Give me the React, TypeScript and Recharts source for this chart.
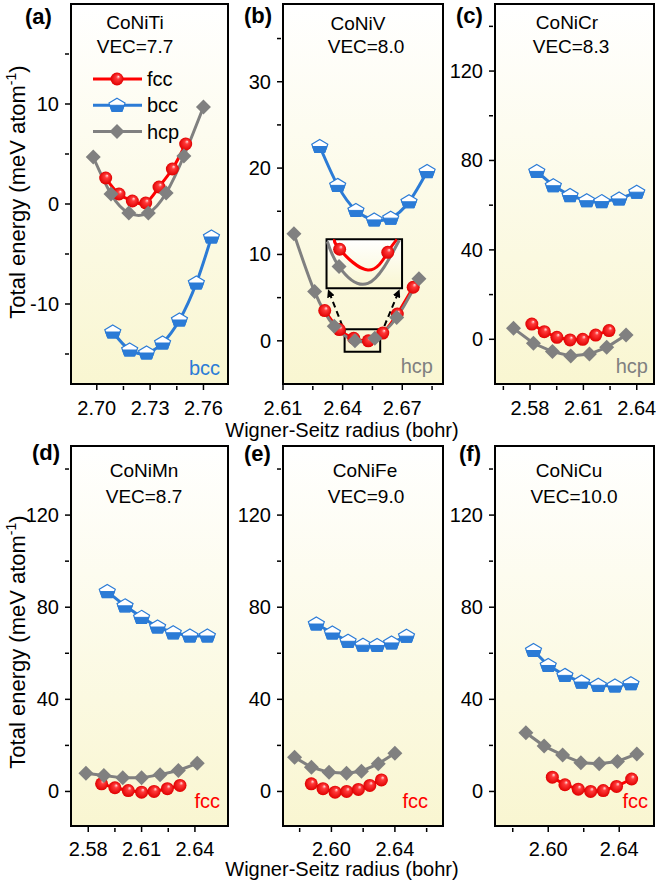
import React from "react";
import {
  LineChart,
  Line,
  XAxis,
  YAxis,
  CartesianGrid,
  ReferenceArea,
  ReferenceLine,
  Legend,
} from "recharts";

// ── Data (Wigner-Seitz radius in bohr, total energy in meV/atom) ─────────────
// (a) CoNiTi
const TI_FCC_R = [2.705, 2.7125, 2.72, 2.7275, 2.735, 2.7425, 2.75];
const TI_FCC_E = [2.6, 1.0, 0.3, 0.1, 1.7, 3.5, 6.0];
const TI_BCC_R = [2.709, 2.7185, 2.728, 2.737, 2.7465, 2.756, 2.7645];
const TI_BCC_E = [-12.8, -14.6, -14.9, -13.9, -11.6, -7.9, -3.3];
const TI_HCP_R = [2.698, 2.708, 2.718, 2.729, 2.739, 2.749, 2.76];
const TI_HCP_E = [4.7, 1.0, -0.9, -0.9, 1.1, 4.8, 9.7];

// (b) CoNiV
const V_FCC_R = [2.631, 2.6383, 2.6456, 2.6529, 2.6602, 2.6675, 2.6755];
const V_FCC_E = [3.5, 1.3, 0.3, 0.0, 0.9, 3.1, 6.2];
const V_BCC_R = [2.6285, 2.6375, 2.6467, 2.6559, 2.6642, 2.6734, 2.6825];
const V_BCC_E = [22.5, 18.0, 15.1, 14.0, 14.2, 16.1, 19.6];
const V_HCP_R = [2.6155, 2.6259, 2.6358, 2.6462, 2.6562, 2.6672, 2.6784];
const V_HCP_E = [12.4, 5.7, 1.7, 0.0, 0.3, 2.7, 7.2];

// (b) inset: magnified view of the fcc / hcp minima
const INSET_FCC_R = [2.636, 2.6385, 2.6527, 2.6627, 2.6673];
const INSET_FCC_E = [11.75, 10.6, 8.2, 10.25, 11.75];
const INSET_FCC_MARKED = [1, 3];
const INSET_HCP_R = [2.6323, 2.6382, 2.6527, 2.6685];
const INSET_HCP_E = [11.5, 8.6, 6.65, 11.65];
const INSET_HCP_MARKED = [1];

// (c) CoNiCr
const CR_FCC_R = [2.581, 2.588, 2.5951, 2.6025, 2.6096, 2.6169, 2.6244];
const CR_FCC_E = [6.8, 3.4, 0.9, -0.3, 0.0, 1.9, 3.9];
const CR_BCC_R = [2.5838, 2.5931, 2.6025, 2.6119, 2.6203, 2.6301, 2.64];
const CR_BCC_E = [75.1, 68.7, 64.3, 62.0, 61.6, 62.8, 65.8];
const CR_HCP_R = [2.5707, 2.5819, 2.5926, 2.6029, 2.6134, 2.6231, 2.634];
const CR_HCP_E = [4.9, -1.8, -5.5, -7.5, -6.6, -3.6, 1.9];

// (d) CoNiMn
const MN_FCC_R = [2.5875, 2.595, 2.6025, 2.61, 2.617, 2.6245, 2.6316];
const MN_FCC_E = [3.3, 1.6, 0.4, -0.3, 0.0, 1.2, 2.6];
const MN_BCC_R = [2.5907, 2.6007, 2.61, 2.619, 2.6278, 2.6372, 2.647];
const MN_BCC_E = [86.8, 80.6, 75.6, 71.4, 68.9, 67.5, 67.5];
const MN_HCP_R = [2.5787, 2.5888, 2.5994, 2.61, 2.6204, 2.6307, 2.6413];
const MN_HCP_E = [7.9, 6.9, 5.9, 5.9, 7.3, 9.1, 12.2];

// (e) CoNiFe
const FE_FCC_R = [2.5873, 2.5947, 2.6023, 2.6096, 2.617, 2.6242, 2.6315];
const FE_FCC_E = [3.3, 1.2, -0.3, 0.0, 0.9, 2.6, 5.0];
const FE_BCC_R = [2.5905, 2.6006, 2.6105, 2.6199, 2.6288, 2.6379, 2.6473];
const FE_BCC_E = [72.7, 68.8, 65.2, 63.5, 63.4, 64.5, 67.4];
const FE_HCP_R = [2.5768, 2.5874, 2.5985, 2.6095, 2.6189, 2.6295, 2.64];
const FE_HCP_E = [14.8, 10.5, 8.3, 7.9, 8.8, 12.0, 16.6];

// (f) CoNiCu
const CU_FCC_R = [2.6023, 2.6094, 2.6169, 2.6239, 2.631, 2.6385, 2.647];
const CU_FCC_E = [6.2, 2.9, 1.0, 0.0, 0.4, 2.2, 5.4];
const CU_BCC_R = [2.5917, 2.6, 2.6094, 2.6188, 2.6282, 2.6376, 2.6466];
const CU_BCC_E = [61.2, 54.7, 50.4, 47.5, 46.1, 45.8, 46.8];
const CU_HCP_R = [2.5874, 2.5977, 2.6081, 2.6184, 2.6287, 2.639, 2.6499];
const CU_HCP_E = [25.5, 19.7, 15.8, 12.5, 12.0, 13.0, 16.3];

// tick values
const TI_X_MAJOR = [2.7, 2.73, 2.76];
const TI_X_MINOR = [2.715, 2.745];
const V_X_MAJOR = [2.61, 2.64, 2.67];
const V_X_MINOR = [2.625, 2.655, 2.685];
const CR_X_MAJOR = [2.58, 2.61, 2.64];
const CR_X_MINOR = [2.565, 2.595, 2.625];
const MN_X_MAJOR = [2.58, 2.61, 2.64];
const MN_X_MINOR = [2.595, 2.625];
const FE_X_MAJOR = [2.6, 2.64];
const FE_X_MINOR = [2.58, 2.62, 2.66];
const CU_X_MAJOR = [2.6, 2.64];
const CU_X_MINOR = [2.58, 2.62];

const TI_Y_MAJOR = [-10, 0, 10];
const TI_Y_MINOR = [-15, -5, 5, 15];
const V_Y_MAJOR = [0, 10, 20, 30];
const V_Y_MINOR = [5, 15, 25, 35];
const BIG_Y_MAJOR = [0, 40, 80, 120];
const BIG_Y_MINOR = [20, 60, 100, 140];

// ── Styles ──────────────────────────────────────────────────────────────────
const FONT = "Arial, 'Liberation Sans', Helvetica, sans-serif";
const RED = "#ff0000";
const BLUE = "#2b7bd6";
const GRAY = "#808080";
const PHASE_COLOR: Record<string, string> = { fcc: RED, bcc: BLUE, hcp: GRAY };

type Pt = { r: number; e: number };
const zip = (r: number[], e: number[]): Pt[] => r.map((v, i) => ({ r: v, e: e[i] }));

function Marker({ kind, cx, cy }: { kind: string; cx: number; cy: number }) {
  if (cx == null || cy == null) return <g />;
  if (kind === "fcc") {
    return <circle cx={cx} cy={cy} r={6.5} fill="url(#sphereRed)" />;
  }
  if (kind === "hcp") {
    const s = 7.5;
    return (
      <polygon
        points={`${cx},${cy - s} ${cx + s},${cy} ${cx},${cy + s} ${cx - s},${cy}`}
        fill={GRAY}
      />
    );
  }
  // bcc: pentagon, white top half and solid blue bottom half
  const pts = [
    [0, -7],
    [8, -2.2],
    [5, 6],
    [-5, 6],
    [-8, -2.2],
  ];
  const lower = [
    [7.2, 0],
    [5, 6],
    [-5, 6],
    [-7.2, 0],
  ];
  const str = (a: number[][]) => a.map(([x, y]) => `${cx + x},${cy + y}`).join(" ");
  return (
    <g>
      <polygon points={str(pts)} fill="#ffffff" stroke={BLUE} strokeWidth={1.2} />
      <polygon points={str(lower)} fill={BLUE} stroke={BLUE} strokeWidth={1} />
    </g>
  );
}

const near = (list: number[], v: number) => list.some((m) => Math.abs(m - v) < 1e-6);

const makeXTick = (majors: number[], labelDy: number) => (p: any) => {
  const { x, y, payload } = p;
  const major = near(majors, payload.value);
  return (
    <g>
      <line x1={x} x2={x} y1={y} y2={y - (major ? 6 : 4)} stroke="#000" strokeWidth={1.5} />
      {major && (
        <text x={x} y={y + labelDy} textAnchor="middle" fontSize={20} fontFamily={FONT} fill="#000">
          {payload.value.toFixed(2)}
        </text>
      )}
    </g>
  );
};

const makeYTick = (majors: number[]) => (p: any) => {
  const { x, y, payload } = p;
  const major = near(majors, payload.value);
  return (
    <g>
      <line x1={x} x2={x + (major ? 6 : 4)} y1={y} y2={y} stroke="#000" strokeWidth={1.5} />
      {major && (
        <text x={x - 6} y={y + 7} textAnchor="end" fontSize={20} fontFamily={FONT} fill="#000">
          {String(payload.value)}
        </text>
      )}
    </g>
  );
};

const LEGEND_ORDER = ["fcc", "bcc", "hcp"];

function LegendContent(props: any) {
  const items = [...(props.payload || [])].sort(
    (a: any, b: any) => LEGEND_ORDER.indexOf(a.value) - LEGEND_ORDER.indexOf(b.value)
  );
  return (
    <svg width={110} height={80}>
      {items.map((it: any, i: number) => {
        const y = 13 + i * 26.3;
        return (
          <g key={it.value}>
            <line x1={5} x2={54} y1={y} y2={y} stroke={PHASE_COLOR[it.value]} strokeWidth={3} />
            <Marker kind={it.value} cx={29} cy={y} />
            <text x={59} y={y + 7} fontSize={20} fontFamily={FONT} fill="#000">
              {it.value}
            </text>
          </g>
        );
      })}
    </svg>
  );
}

interface Series {
  name: string;
  data: Pt[];
}

interface PanelCfg {
  id: string;
  left: number;
  top: number;
  width: number;
  yw: number;
  mr: number;
  mt: number;
  xh: number;
  labelDy: number;
  xDomain: [number, number];
  yDomain: [number, number];
  xMajor: number[];
  xMinor: number[];
  yMajor: number[];
  yMinor: number[];
  curve: "natural" | "linear";
  series: Series[];
  legend?: boolean;
  inset?: boolean;
}

const trio = (f: Pt[], b: Pt[], h: Pt[]): Series[] => [
  { name: "fcc", data: f },
  { name: "bcc", data: b },
  { name: "hcp", data: h },
];

const PANELS: PanelCfg[] = [
  {
    id: "a", left: 0, top: 0, width: 235, yw: 71, mr: 7, mt: 4, xh: 56, labelDy: 25,
    xDomain: [2.6855, 2.7738], yDomain: [-18, 20],
    xMajor: TI_X_MAJOR, xMinor: TI_X_MINOR, yMajor: TI_Y_MAJOR, yMinor: TI_Y_MINOR,
    curve: "natural",
    series: trio(zip(TI_FCC_R, TI_FCC_E), zip(TI_BCC_R, TI_BCC_E), zip(TI_HCP_R, TI_HCP_E)),
    legend: true,
  },
  {
    id: "b", left: 235, top: 0, width: 215, yw: 48, mr: 7, mt: 4, xh: 56, labelDy: 25,
    xDomain: [2.61, 2.6905], yDomain: [-5, 39],
    xMajor: V_X_MAJOR, xMinor: V_X_MINOR, yMajor: V_Y_MAJOR, yMinor: V_Y_MINOR,
    curve: "natural",
    series: trio(zip(V_FCC_R, V_FCC_E), zip(V_BCC_R, V_BCC_E), zip(V_HCP_R, V_HCP_E)),
    inset: true,
  },
  {
    id: "c", left: 450, top: 0, width: 206, yw: 45, mr: 2, mt: 4, xh: 56, labelDy: 25,
    xDomain: [2.5603, 2.6497], yDomain: [-20, 150],
    xMajor: CR_X_MAJOR, xMinor: CR_X_MINOR, yMajor: BIG_Y_MAJOR, yMinor: BIG_Y_MINOR,
    curve: "linear",
    series: trio(zip(CR_FCC_R, CR_FCC_E), zip(CR_BCC_R, CR_BCC_E), zip(CR_HCP_R, CR_HCP_E)),
  },
  {
    id: "d", left: 0, top: 440, width: 235, yw: 71, mr: 7, mt: 6, xh: 54, labelDy: 24,
    xDomain: [2.5703, 2.6586], yDomain: [-15, 150],
    xMajor: MN_X_MAJOR, xMinor: MN_X_MINOR, yMajor: BIG_Y_MAJOR, yMinor: BIG_Y_MINOR,
    curve: "linear",
    series: trio(zip(MN_FCC_R, MN_FCC_E), zip(MN_BCC_R, MN_BCC_E), zip(MN_HCP_R, MN_HCP_E)),
  },
  {
    id: "e", left: 235, top: 440, width: 215, yw: 48, mr: 7, mt: 6, xh: 54, labelDy: 24,
    xDomain: [2.5695, 2.6703], yDomain: [-15, 150],
    xMajor: FE_X_MAJOR, xMinor: FE_X_MINOR, yMajor: BIG_Y_MAJOR, yMinor: BIG_Y_MINOR,
    curve: "linear",
    series: trio(zip(FE_FCC_R, FE_FCC_E), zip(FE_BCC_R, FE_BCC_E), zip(FE_HCP_R, FE_HCP_E)),
  },
  {
    id: "f", left: 450, top: 440, width: 206, yw: 45, mr: 2, mt: 6, xh: 54, labelDy: 24,
    xDomain: [2.57, 2.6596], yDomain: [-15, 150],
    xMajor: CU_X_MAJOR, xMinor: CU_X_MINOR, yMajor: BIG_Y_MAJOR, yMinor: BIG_Y_MINOR,
    curve: "linear",
    series: trio(zip(CU_FCC_R, CU_FCC_E), zip(CU_BCC_R, CU_BCC_E), zip(CU_HCP_R, CU_HCP_E)),
  },
];

const markedDot = (kind: string, marked: number[]) => (p: any) =>
  marked.includes(p.index) ? (
    <Marker key={`${kind}-in-${p.index}`} kind={kind} cx={p.cx} cy={p.cy} />
  ) : (
    <g key={`${kind}-in-${p.index}`} />
  );

const arrowShape = (p: any) => (
  <line
    x1={p.x1}
    y1={p.y1}
    x2={p.x2}
    y2={p.y2}
    stroke="#000"
    strokeWidth={2}
    strokeDasharray="6 4"
    markerEnd="url(#arrowHead)"
  />
);

function Panel({ cfg }: { cfg: PanelCfg }) {
  const [x0, x1] = cfg.xDomain;
  const [y0, y1] = cfg.yDomain;
  return (
    <div style={{ position: "absolute", left: cfg.left, top: cfg.top }}>
      <LineChart
        width={cfg.width}
        height={440}
        margin={{ top: cfg.mt, right: cfg.mr, bottom: 0, left: 0 }}
      >
        <CartesianGrid fill="url(#plotBg)" stroke="none" />
        <XAxis
          type="number"
          dataKey="r"
          domain={cfg.xDomain}
          allowDataOverflow
          ticks={[...cfg.xMajor, ...cfg.xMinor]}
          interval={0}
          tickLine={false}
          tickMargin={0}
          axisLine={false}
          height={cfg.xh}
          tick={makeXTick(cfg.xMajor, cfg.labelDy)}
        />
        <YAxis
          type="number"
          domain={cfg.yDomain}
          allowDataOverflow
          ticks={[...cfg.yMajor, ...cfg.yMinor]}
          interval={0}
          tickLine={false}
          tickMargin={0}
          axisLine={false}
          width={cfg.yw}
          tick={makeYTick(cfg.yMajor)}
        />
        {cfg.series.map((s) => (
          <Line
            key={s.name}
            name={s.name}
            data={s.data}
            dataKey="e"
            type={cfg.curve}
            stroke={PHASE_COLOR[s.name]}
            strokeWidth={3}
            dot={(p: any) => <Marker key={`${s.name}-${p.index}`} kind={s.name} cx={p.cx} cy={p.cy} />}
            activeDot={false}
            isAnimationActive={false}
          />
        ))}
        {cfg.inset && (
          <ReferenceArea
            x1={2.6319}
            x2={2.6699}
            y1={6.08}
            y2={11.75}
            fill="url(#plotBg)"
            fillOpacity={1}
            stroke="#000"
            strokeWidth={2}
            ifOverflow="visible"
          />
        )}
        {cfg.inset && (
          <ReferenceArea
            x1={2.641}
            x2={2.6589}
            y1={-1.26}
            y2={1.33}
            fill="none"
            stroke="#000"
            strokeWidth={2}
            ifOverflow="visible"
          />
        )}
        {cfg.inset && (
          <Line
            name="fcc-inset"
            legendType="none"
            data={zip(INSET_FCC_R, INSET_FCC_E)}
            dataKey="e"
            type="natural"
            stroke={RED}
            strokeWidth={3}
            dot={markedDot("fcc", INSET_FCC_MARKED)}
            activeDot={false}
            isAnimationActive={false}
          />
        )}
        {cfg.inset && (
          <Line
            name="hcp-inset"
            legendType="none"
            data={zip(INSET_HCP_R, INSET_HCP_E)}
            dataKey="e"
            type="natural"
            stroke={GRAY}
            strokeWidth={3}
            dot={markedDot("hcp", INSET_HCP_MARKED)}
            activeDot={false}
            isAnimationActive={false}
          />
        )}
        {cfg.inset && (
          <ReferenceLine
            segment={[
              { x: 2.6399, y: 1.71 },
              { x: 2.6328, y: 5.88 },
            ]}
            shape={arrowShape}
            ifOverflow="visible"
          />
        )}
        {cfg.inset && (
          <ReferenceLine
            segment={[
              { x: 2.661, y: 1.71 },
              { x: 2.6685, y: 5.88 },
            ]}
            shape={arrowShape}
            ifOverflow="visible"
          />
        )}
        <ReferenceArea
          x1={x0}
          x2={x1}
          y1={y0}
          y2={y1}
          fill="none"
          stroke="#000"
          strokeWidth={2}
          ifOverflow="visible"
        />
        {cfg.legend && (
          <Legend
            content={LegendContent}
            layout="vertical"
            align="center"
            verticalAlign="middle"
            wrapperStyle={{ position: "absolute", left: 88, top: 66, width: 110, height: 80 }}
          />
        )}
      </LineChart>
    </div>
  );
}

const LETTERS = [
  { t: "(a)", x: 25, y: 24 },
  { t: "(b)", x: 244, y: 23 },
  { t: "(c)", x: 456, y: 23 },
  { t: "(d)", x: 32, y: 460 },
  { t: "(e)", x: 244, y: 461 },
  { t: "(f)", x: 459, y: 461 },
];

const TITLES = [
  { t: "CoNiTi", x: 135, y: 29 },
  { t: "VEC=7.7", x: 135, y: 53 },
  { t: "CoNiV", x: 358, y: 30 },
  { t: "VEC=8.0", x: 366, y: 53 },
  { t: "CoNiCr", x: 567, y: 29 },
  { t: "VEC=8.3", x: 571, y: 53 },
  { t: "CoNiMn", x: 144, y: 477 },
  { t: "VEC=8.7", x: 144, y: 503 },
  { t: "CoNiFe", x: 365, y: 477 },
  { t: "VEC=9.0", x: 366, y: 503 },
  { t: "CoNiCu", x: 569, y: 477 },
  { t: "VEC=10.0", x: 574, y: 503 },
];

const CORNER_LABELS = [
  { t: "bcc", x: 220, y: 375, c: BLUE },
  { t: "hcp", x: 433, y: 373, c: GRAY },
  { t: "hcp", x: 648, y: 373, c: GRAY },
  { t: "fcc", x: 220, y: 808, c: RED },
  { t: "fcc", x: 428, y: 808, c: RED },
  { t: "fcc", x: 648, y: 808, c: RED },
];

function YTitle({ cy }: { cy: number }) {
  return (
    <text
      x={25}
      y={cy}
      transform={`rotate(-90 25 ${cy})`}
      textAnchor="middle"
      fontSize={22}
      fontFamily={FONT}
      fill="#000"
    >
      Total energy (meV atom
      <tspan fontSize={14} dy={-9}>
        -1
      </tspan>
      <tspan dy={9}>)</tspan>
    </text>
  );
}

export default function App() {
  return (
    <div
      style={{
        position: "relative",
        width: 656,
        height: 882,
        background: "#ffffff",
        overflow: "hidden",
        fontFamily: FONT,
      }}
    >
      <style>{"body{margin:0}"}</style>
      <svg width={0} height={0} style={{ position: "absolute" }}>
        <defs>
          <linearGradient id="plotBg" x1="0" y1="0" x2="0" y2="1">
            <stop offset="0" stopColor="#ffffff" />
            <stop offset="1" stopColor="#f9f6d1" />
          </linearGradient>
          <radialGradient id="sphereRed" cx="0.5" cy="0.5" r="0.5" fx="0.62" fy="0.3">
            <stop offset="0" stopColor="#ffe4e4" />
            <stop offset="0.3" stopColor="#ff3a3a" />
            <stop offset="1" stopColor="#e00000" />
          </radialGradient>
          <marker
            id="arrowHead"
            viewBox="0 0 10 10"
            refX="9"
            refY="5"
            markerWidth="4"
            markerHeight="4"
            orient="auto"
          >
            <path d="M0,0 L10,5 L0,10 z" fill="#000" />
          </marker>
        </defs>
      </svg>

      {PANELS.map((cfg) => (
        <Panel key={cfg.id} cfg={cfg} />
      ))}

      <svg
        width={656}
        height={882}
        style={{ position: "absolute", left: 0, top: 0, pointerEvents: "none" }}
      >
        {LETTERS.map((l) => (
          <text key={l.t} x={l.x} y={l.y} fontSize={22} fontWeight="bold" fontFamily={FONT} fill="#000">
            {l.t}
          </text>
        ))}
        {TITLES.map((l) => (
          <text key={l.t} x={l.x} y={l.y} textAnchor="middle" fontSize={19} fontFamily={FONT} fill="#000">
            {l.t}
          </text>
        ))}
        {CORNER_LABELS.map((l, i) => (
          <text key={i} x={l.x} y={l.y} textAnchor="end" fontSize={20} fontFamily={FONT} fill={l.c}>
            {l.t}
          </text>
        ))}
        <YTitle cy={192} />
        <YTitle cy={642} />
        <text x={342} y={437} textAnchor="middle" fontSize={20} fontFamily={FONT} fill="#000">
          Wigner-Seitz radius (bohr)
        </text>
        <text x={342} y={876} textAnchor="middle" fontSize={20} fontFamily={FONT} fill="#000">
          Wigner-Seitz radius (bohr)
        </text>
      </svg>
    </div>
  );
}
